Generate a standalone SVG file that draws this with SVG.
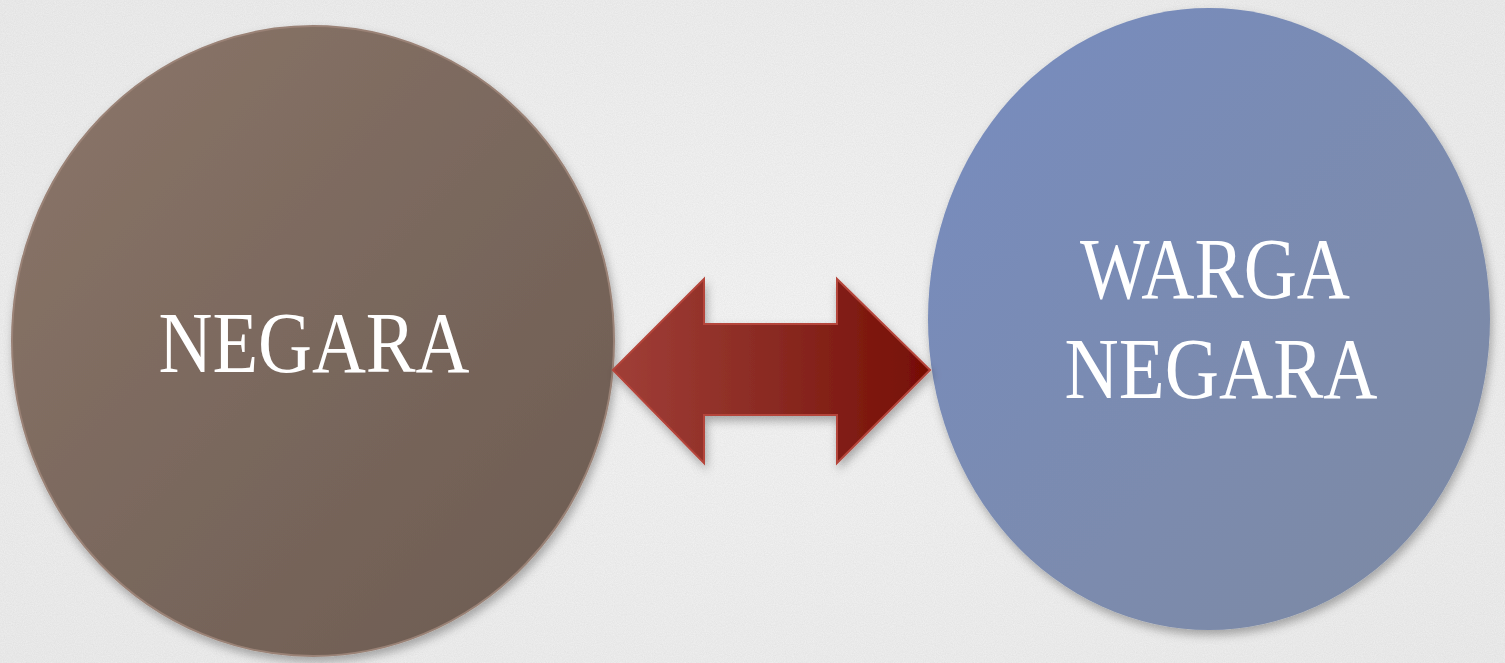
<svg xmlns="http://www.w3.org/2000/svg" width="1505" height="663" viewBox="0 0 1505 663">
<style>
.lbl{font-family:"Liberation Serif","DejaVu Serif",serif;fill:#ffffff;font-size:86px;}
</style>
<defs>
<linearGradient id="gBrown" x1="0" y1="0" x2="1" y2="1">
<stop offset="0" stop-color="#8c766a"/>
<stop offset="0.5" stop-color="#7a685d"/>
<stop offset="1" stop-color="#6c5b51"/>
</linearGradient>
<linearGradient id="gBlue" x1="0" y1="0" x2="1" y2="1">
<stop offset="0" stop-color="#778cc0"/>
<stop offset="0.6" stop-color="#7b8bae"/>
<stop offset="1" stop-color="#7d89a2"/>
</linearGradient>
<linearGradient id="gArrow" x1="0" y1="0" x2="1" y2="0">
<stop offset="0" stop-color="#a03e37"/>
<stop offset="0.5" stop-color="#8a2a22"/>
<stop offset="1" stop-color="#760e04"/>
</linearGradient>
<filter id="shadow" x="-10%" y="-10%" width="120%" height="125%">
<feDropShadow dx="2" dy="5" stdDeviation="5" flood-color="#000" flood-opacity="0.3"/>
</filter>
<filter id="noise">
<feTurbulence type="fractalNoise" baseFrequency="0.9" numOctaves="2" seed="3"/>
<feColorMatrix type="matrix" values="0 0 0 0 0  0 0 0 0 0  0 0 0 0 0  0 0 0 0.06 0"/>
</filter>
<radialGradient id="gBg" cx="0.5" cy="0.5" r="0.7">
<stop offset="0" stop-color="#f6f6f6"/>
<stop offset="1" stop-color="#eeeeee"/>
</radialGradient>
</defs>
<rect width="1505" height="663" fill="url(#gBg)"/>
<rect width="1505" height="663" filter="url(#noise)"/>
<g id="node-negara">
<ellipse cx="313" cy="341" rx="301" ry="315" fill="url(#gBrown)" stroke="#9a8276" stroke-width="2" filter="url(#shadow)"/>
<text class="lbl" x="314" y="372" text-anchor="middle" textLength="311" lengthAdjust="spacingAndGlyphs">NEGARA</text>
</g>
<g id="node-warga">
<ellipse cx="1209" cy="319" rx="281" ry="311" fill="url(#gBlue)" filter="url(#shadow)"/>
<text class="lbl" x="1215" y="298" text-anchor="middle" textLength="270" lengthAdjust="spacingAndGlyphs">WARGA</text>
<text class="lbl" x="1221" y="398" text-anchor="middle" textLength="313" lengthAdjust="spacingAndGlyphs">NEGARA</text>
</g>
<g id="connectors">
<path d="M613 370 L704 279 L704 324 L837 324 L837 279 L930 370 L837 463 L837 415 L704 415 L704 463 Z" fill="url(#gArrow)" stroke="#b4443a" stroke-width="2" stroke-linejoin="miter" filter="url(#shadow)"/>
</g>
</svg>
